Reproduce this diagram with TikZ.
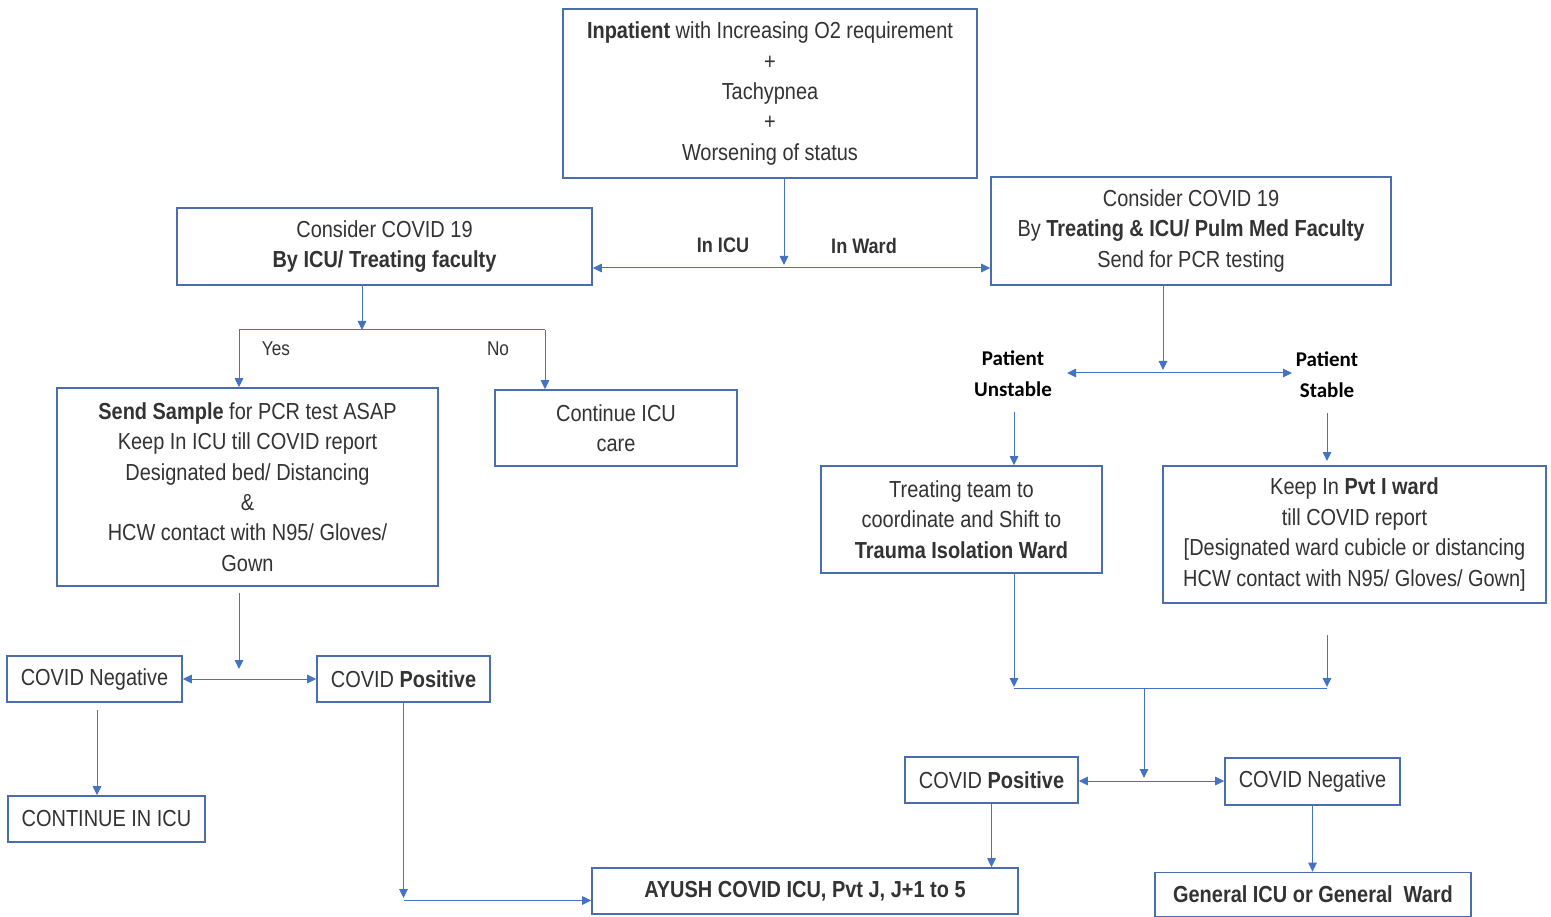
\documentclass[tikz,border=0pt]{standalone}
\usepackage{fontspec}
\setmainfont{Liberation Sans}[FakeStretch=0.86]
\newfontfamily\calfont{Carlito}
\usetikzlibrary{arrows.meta}
\definecolor{boxblue}{HTML}{4A6DB0}
\definecolor{lineblue}{HTML}{4472C4}
\definecolor{txt}{HTML}{333333}
\tikzset{
  tip/.tip={Triangle[length=9pt,width=8.5pt]},
  box/.style={draw=boxblue, line width=1.6pt, fill=white, align=center,
    inner sep=0pt, text=txt, font=\fontsize{23.2}{30.4}\selectfont},
  conn/.style={draw=lineblue, line width=1pt, -tip},
  plain/.style={draw=lineblue, line width=1pt},
  both/.style={draw=lineblue, line width=1pt, tip-tip},
  lbl/.style={text=txt, font=\fontsize{21}{24}\selectfont\bfseries, inner sep=0pt},
  clbl/.style={text=black, font=\calfont\fontsize{21}{31}\selectfont\bfseries,
    align=center, inner sep=0pt},
  yn/.style={text=txt, font=\fontsize{20}{22}\selectfont, inner sep=0pt}
}
\begin{document}
\begin{tikzpicture}[x=1pt,y=-1pt]
\useasboundingbox (0,0) rectangle (1551,917);

% boxes
\node[box, minimum width=414pt, minimum height=169pt] (top) at (770,93.5)
  {\textbf{Inpatient} with Increasing O2 requirement\\+\\Tachypnea\\+\\Worsening of status};
\node[box, minimum width=415pt, minimum height=77pt] (lcons) at (384.5,246.5)
  {Consider COVID 19\\\textbf{By ICU/ Treating faculty}};
\node[box, minimum width=400pt, minimum height=108pt] (rcons) at (1191,231)
  {Consider COVID 19\\By \textbf{Treating \& ICU/ Pulm Med Faculty}\\Send for PCR testing};
\node[box, minimum width=381pt, minimum height=198pt] (send) at (247.5,487)
  {\textbf{Send Sample} for PCR test ASAP\\Keep In ICU till COVID report\\Designated bed/ Distancing\\\&\\HCW contact with N95/ Gloves/\\Gown};
\node[box, minimum width=242pt, minimum height=76pt] (cont) at (616,428)
  {Continue ICU\\care};
\node[box, minimum width=175pt, minimum height=46pt] (negL) at (94.5,679)
  {COVID Negative};
\node[box, minimum width=173pt, minimum height=46pt] (posL) at (403.5,679)
  {COVID \textbf{Positive}};
\node[box, minimum width=197pt, minimum height=46pt] (cicu) at (106.5,819)
  {CONTINUE IN ICU};
\node[box, minimum width=426pt, minimum height=46pt] (ayush) at (805,891)
  {\textbf{AYUSH COVID ICU, Pvt J, J+1 to 5}};
\node[box, minimum width=281pt, minimum height=107pt] (treat) at (961.5,519.5)
  {Treating team to\\coordinate and Shift to\\\textbf{Trauma Isolation Ward}};
\node[box, minimum width=383pt, minimum height=137pt] (keep) at (1354.5,534.5)
  {Keep In \textbf{Pvt I ward}\\till COVID report\\{[}Designated ward cubicle or distancing\\HCW contact with N95/ Gloves/ Gown{]}};
\node[box, minimum width=173pt, minimum height=46pt] (posR) at (991.5,780)
  {COVID \textbf{Positive}};
\node[box, minimum width=175pt, minimum height=47pt] (negR) at (1312.5,781.5)
  {COVID Negative};
\node[box, minimum width=316pt, minimum height=44pt] (gen) at (1313,894.5)
  {\textbf{General ICU or General\ \ Ward}};

% labels
\node[lbl] (inicu) at (723,245) {In ICU};
\node[lbl] (inward) at (864,246) {In Ward};
\node[yn] (yes) at (276,349) {Yes};
\node[yn] (no) at (498,349) {No};
\node[clbl] (unst) at (1013,373.5) {Patient\\Unstable};
\node[clbl] (stab) at (1327,374.5) {Patient\\Stable};

% junction points
\coordinate (j1) at (784,268);
\coordinate (j1t) at (784,265);
\coordinate (j2) at (362,330);
\coordinate (yesC) at (239,330);
\coordinate (noC) at (545,330);
\coordinate (s3) at (239,593);
\coordinate (j3t) at (239,669);
\coordinate (n1) at (97,710);
\coordinate (p1) at (403.5,898);
\coordinate (p1c) at (403.5,900.5);
\coordinate (j4) at (1163,370);
\coordinate (uL) at (1067,373);
\coordinate (sR) at (1292,373);
\coordinate (uS) at (1014,412);
\coordinate (sS) at (1327,413);
\coordinate (sT) at (1327,461);
\coordinate (tB) at (1014,687);
\coordinate (kS) at (1327,635);
\coordinate (kB) at (1327,687);
\coordinate (m1) at (1014,688);
\coordinate (m2) at (1327,688);
\coordinate (m3) at (1144,688);
\coordinate (m3t) at (1144,778);
\coordinate (pn) at (1144,781);

% connectors
\draw[conn] (top.south -| j1) -- (j1t);
\draw[both] (lcons.east |- j1) -- (rcons.west |- j1);
\draw[conn] (lcons.south -| j2) -- (j2);
\draw[plain] (yesC) -- (noC);
\draw[conn] (yesC) -- (send.north -| yesC);
\draw[conn] (noC) -- (cont.north -| noC);
\draw[conn] (s3) -- (j3t);
\draw[both] (negL.east) -- (posL.west);
\draw[conn] (n1) -- (cicu.north -| n1);
\draw[conn] (posL.south) -- (p1);
\draw[conn] (p1c) -- (ayush.west |- p1c);
\draw[conn] (rcons.south -| j4) -- (j4);
\draw[both] (uL) -- (sR);
\draw[conn] (uS) -- (treat.north -| uS);
\draw[conn] (sS) -- (sT);
\draw[conn] (treat.south -| tB) -- (tB);
\draw[conn] (kS) -- (kB);
\draw[plain] (m1) -- (m2);
\draw[conn] (m3) -- (m3t);
\draw[both] (posR.east |- pn) -- (negR.west |- pn);
\draw[conn] (posR.south) -- (posR.south |- ayush.north);
\draw[conn] (negR.south) -- (negR.south |- gen.north);
\end{tikzpicture}
\end{document}
